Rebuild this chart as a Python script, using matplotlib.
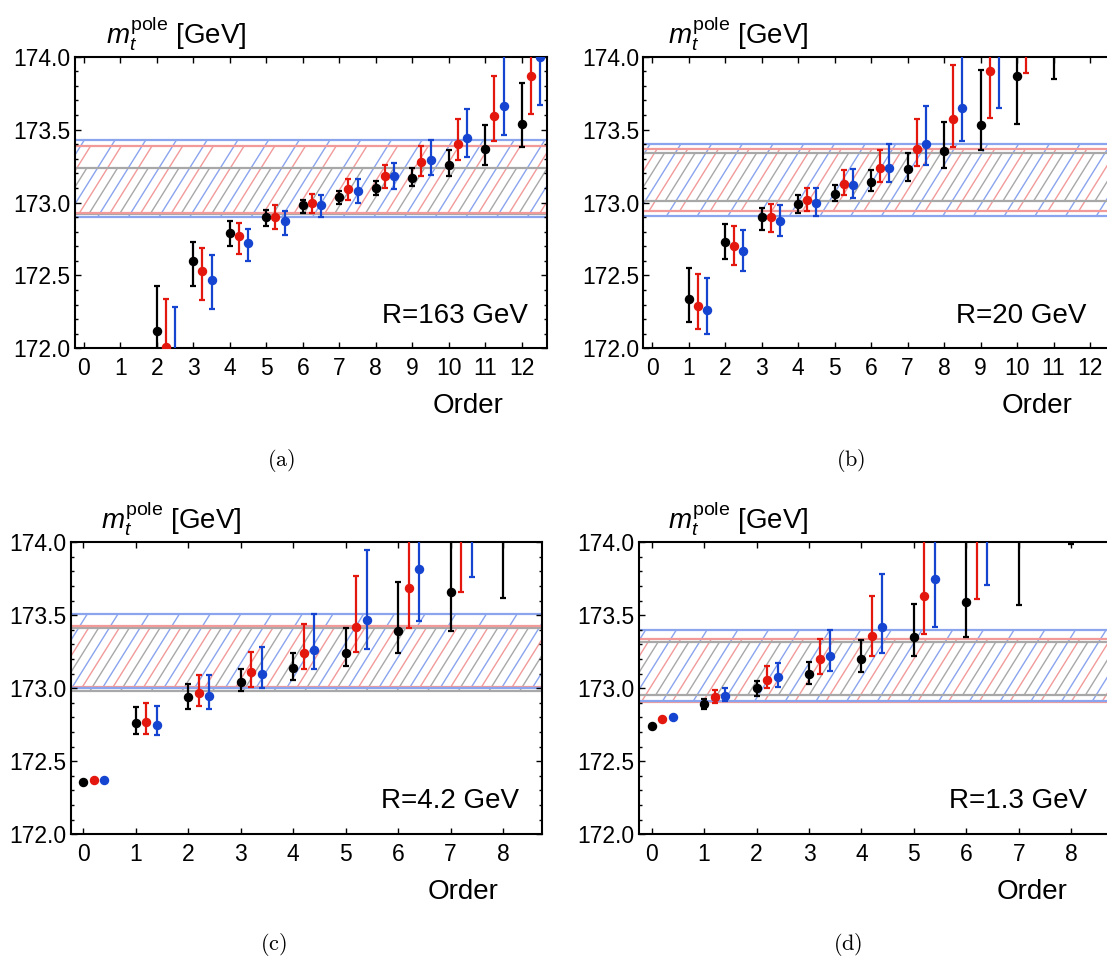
import numpy as np
import matplotlib
matplotlib.use("Agg")
import matplotlib.pyplot as plt
from matplotlib.collections import LineCollection
from matplotlib.patches import Rectangle
from matplotlib.ticker import MultipleLocator, FormatStrFormatter

# ---------------------------------------------------------------- data
# (a) R = 163 GeV
a_orders_k = [2, 3, 4, 5, 6, 7, 8, 9, 10, 11, 12]
a_k_mid = [172.12, 172.60, 172.79, 172.90, 172.98, 173.04, 173.10, 173.17, 173.26, 173.37, 173.54]
a_k_lo = [171.80, 172.43, 172.70, 172.84, 172.93, 172.99, 173.05, 173.11, 173.18, 173.26, 173.38]
a_k_hi = [172.43, 172.73, 172.87, 172.95, 173.02, 173.08, 173.15, 173.24, 173.36, 173.53, 173.82]
a_orders_r = [2, 3, 4, 5, 6, 7, 8, 9, 10, 11, 12]
a_r_mid = [172.01, 172.53, 172.77, 172.90, 173.00, 173.09, 173.18, 173.28, 173.40, 173.59, 173.87]
a_r_lo = [171.70, 172.33, 172.65, 172.82, 172.93, 173.02, 173.10, 173.18, 173.29, 173.42, 173.61]
a_r_hi = [172.34, 172.69, 172.86, 172.98, 173.06, 173.16, 173.26, 173.39, 173.57, 173.87, 174.20]
a_orders_b = [2, 3, 4, 5, 6, 7, 8, 9, 10, 11, 12]
a_b_mid = [171.90, 172.47, 172.72, 172.87, 172.98, 173.08, 173.18, 173.29, 173.44, 173.66, 174.00]
a_b_lo = [171.55, 172.27, 172.60, 172.78, 172.90, 173.00, 173.09, 173.19, 173.31, 173.46, 173.67]
a_b_hi = [172.28, 172.64, 172.82, 172.94, 173.05, 173.16, 173.27, 173.43, 173.64, 174.05, 174.40]
a_bands = [(172.92, 173.24), (172.93, 173.39), (172.90, 173.43)]  # gray, red, blue

# (b) R = 20 GeV
b_orders_k = [1, 2, 3, 4, 5, 6, 7, 8, 9, 10, 11]
b_k_mid = [172.34, 172.73, 172.90, 172.99, 173.06, 173.14, 173.23, 173.35, 173.53, 173.87, 174.30]
b_k_lo = [172.18, 172.61, 172.81, 172.93, 173.01, 173.08, 173.15, 173.24, 173.36, 173.54, 173.85]
b_k_hi = [172.55, 172.85, 172.96, 173.05, 173.12, 173.22, 173.34, 173.55, 173.91, 174.30, 174.80]
b_orders_r = [1, 2, 3, 4, 5, 6, 7, 8, 9, 10]
b_r_mid = [172.29, 172.70, 172.90, 173.02, 173.13, 173.24, 173.37, 173.57, 173.90, 174.25]
b_r_lo = [172.13, 172.57, 172.80, 172.94, 173.05, 173.14, 173.25, 173.38, 173.58, 173.89]
b_r_hi = [172.51, 172.84, 172.99, 173.10, 173.22, 173.36, 173.57, 173.94, 174.30, 174.70]
b_orders_b = [1, 2, 3, 4, 5, 6, 7, 8, 9]
b_b_mid = [172.26, 172.67, 172.87, 173.00, 173.12, 173.24, 173.40, 173.65, 174.10]
b_b_lo = [172.10, 172.53, 172.77, 172.91, 173.03, 173.14, 173.26, 173.42, 173.65]
b_b_hi = [172.48, 172.81, 172.98, 173.10, 173.23, 173.40, 173.66, 174.05, 174.60]
b_bands = [(173.01, 173.34), (172.94, 173.37), (172.91, 173.40)]

# (c) R = 4.2 GeV
c_orders_k = [0, 1, 2, 3, 4, 5, 6, 7, 8]
c_k_mid = [172.36, 172.76, 172.94, 173.04, 173.14, 173.24, 173.39, 173.66, 174.10]
c_k_lo = [172.36, 172.69, 172.86, 172.98, 173.06, 173.15, 173.24, 173.39, 173.62]
c_k_hi = [172.36, 172.87, 173.03, 173.13, 173.24, 173.41, 173.73, 174.10, 174.60]
c_orders_r = [0, 1, 2, 3, 4, 5, 6, 7]
c_r_mid = [172.37, 172.77, 172.97, 173.11, 173.24, 173.42, 173.69, 174.05]
c_r_lo = [172.37, 172.69, 172.88, 173.01, 173.13, 173.25, 173.41, 173.66]
c_r_hi = [172.37, 172.90, 173.09, 173.25, 173.44, 173.77, 174.10, 174.50]
c_orders_b = [0, 1, 2, 3, 4, 5, 6, 7]
c_b_mid = [172.37, 172.75, 172.95, 173.10, 173.26, 173.47, 173.82, 174.20]
c_b_lo = [172.37, 172.68, 172.86, 173.00, 173.13, 173.27, 173.46, 173.76]
c_b_hi = [172.37, 172.88, 173.09, 173.28, 173.51, 173.95, 174.25, 174.70]
c_bands = [(172.98, 173.41), (173.01, 173.43), (173.00, 173.51)]

# (d) R = 1.3 GeV
d_orders_k = [0, 1, 2, 3, 4, 5, 6, 7, 8]
d_k_mid = [172.74, 172.89, 173.00, 173.10, 173.20, 173.35, 173.59, 174.10, 174.60]
d_k_lo = [172.74, 172.86, 172.95, 173.03, 173.11, 173.22, 173.35, 173.57, 173.99]
d_k_hi = [172.74, 172.93, 173.05, 173.18, 173.33, 173.58, 174.05, 174.70, 175.30]
d_orders_r = [0, 1, 2, 3, 4, 5, 6]
d_r_mid = [172.79, 172.94, 173.06, 173.20, 173.36, 173.63, 174.05]
d_r_lo = [172.79, 172.90, 173.00, 173.10, 173.22, 173.37, 173.61]
d_r_hi = [172.79, 172.99, 173.15, 173.34, 173.63, 174.10, 174.60]
d_orders_b = [0, 1, 2, 3, 4, 5, 6]
d_b_mid = [172.80, 172.95, 173.08, 173.22, 173.42, 173.75, 174.20]
d_b_lo = [172.80, 172.91, 173.01, 173.12, 173.24, 173.42, 173.71]
d_b_hi = [172.80, 173.00, 173.17, 173.40, 173.78, 174.20, 174.80]
d_bands = [(172.955, 173.32), (172.905, 173.34), (172.915, 173.40)]

r_labels = ["R=163 GeV", "R=20 GeV", "R=4.2 GeV", "R=1.3 GeV"]
captions = ["(a)", "(b)", "(c)", "(d)"]

# ---------------------------------------------------------------- style
plt.rcParams["font.family"] = ["Liberation Sans", "DejaVu Sans"]
plt.rcParams["mathtext.fontset"] = "custom"
plt.rcParams["mathtext.rm"] = "Liberation Sans"
plt.rcParams["mathtext.it"] = "Liberation Sans:italic"

W, H = 1107, 956
fig = plt.figure(figsize=(W / 100, H / 100), dpi=100)

point_colors = ["#000000", "#e3170d", "#1544d0"]
band_colors = ["#a8a8a8", "#f29a9a", "#8aa4ee"]
hatch_phase = [20.0, 10.0, 0.0]
HATCH_STEP = 30.7      # px between hatch lines of one colour
HATCH_ANGLE = np.deg2rad(58)
LABEL_SIZE = 20


def fx(x):
    return x / W


def fy(y):
    return 1 - y / H


def hatch_band(ax, lo, hi, color, phase, w_px, h_px):
    dx = h_px / np.tan(HATCH_ANGLE)
    starts = np.arange(-dx - HATCH_STEP + phase, w_px + HATCH_STEP, HATCH_STEP)
    segs = [[(s / w_px, 0.0), ((s + dx) / w_px, 1.0)] for s in starts]
    lc = LineCollection(segs, colors=color, linewidths=1.0,
                        transform=ax.transAxes, zorder=1)
    ax.add_collection(lc, autolim=False)
    # restrict the hatch to the band (full width, lo..hi in data units)
    clip = Rectangle((0, lo), 1, hi - lo, transform=ax.get_yaxis_transform(),
                     facecolor="none", edgecolor="none")
    lc.set_clip_path(clip)
    for v in (lo, hi):
        ax.axhline(v, color=color, lw=1.6, zorder=1.5)


panels = [
    dict(box=(75.0, 56.7, 472.3, 291.6), xmax=12.7, offs=(0, 0.25, 0.5),
         series=[(a_orders_k, a_k_mid, a_k_lo, a_k_hi),
                 (a_orders_r, a_r_mid, a_r_lo, a_r_hi),
                 (a_orders_b, a_b_mid, a_b_lo, a_b_hi)],
         bands=a_bands, title=(106, 43.3), rlab=(528.3, 322.7),
         order=(468.4, 412.7), cap=(281, 461)),
    dict(box=(643.3, 56.7, 472.3, 291.6), xmax=12.7, offs=(0, 0.25, 0.5),
         series=[(b_orders_k, b_k_mid, b_k_lo, b_k_hi),
                 (b_orders_r, b_r_mid, b_r_lo, b_r_hi),
                 (b_orders_b, b_b_mid, b_b_lo, b_b_hi)],
         bands=b_bands, title=(668, 43.3), rlab=(1086.7, 323.3),
         order=(1036.7, 412.7), cap=(851, 461)),
    dict(box=(70.7, 542.3, 471.3, 292.0), xmax=8.74, offs=(0, 0.2, 0.4),
         series=[(c_orders_k, c_k_mid, c_k_lo, c_k_hi),
                 (c_orders_r, c_r_mid, c_r_lo, c_r_hi),
                 (c_orders_b, c_b_mid, c_b_lo, c_b_hi)],
         bands=c_bands, title=(101, 528.9), rlab=(519.3, 807.7),
         order=(463.4, 899.0), cap=(273, 944)),
    dict(box=(639.0, 542.3, 475.4, 292.0), xmax=8.82, offs=(0, 0.2, 0.4),
         series=[(d_orders_k, d_k_mid, d_k_lo, d_k_hi),
                 (d_orders_r, d_r_mid, d_r_lo, d_r_hi),
                 (d_orders_b, d_b_mid, d_b_lo, d_b_hi)],
         bands=d_bands, title=(668, 528.9), rlab=(1087.3, 807.7),
         order=(1031.7, 899.0), cap=(848, 944)),
]

for i, p in enumerate(panels):
    x0, y0, w, h = p["box"]
    ax = fig.add_axes([fx(x0), fy(y0 + h), w / W, h / H])
    ax.set_xlim(-0.24, p["xmax"])
    ax.set_ylim(172.0, 174.0)

    for (lo, hi), col, ph in zip(p["bands"], band_colors, hatch_phase):
        hatch_band(ax, lo, hi, col, ph, w, h)

    for (orders, mid, lo, hi), col, off in zip(p["series"], point_colors, p["offs"]):
        xs = np.asarray(orders, float) + off
        mid = np.asarray(mid)
        err = [mid - np.asarray(lo), np.asarray(hi) - mid]
        ax.errorbar(xs, mid, yerr=err, fmt="o", color=col, ms=5.8,
                    elinewidth=1.6, capsize=1.9, capthick=1.6, zorder=3)

    ax.xaxis.set_major_locator(MultipleLocator(1))
    ax.yaxis.set_major_locator(MultipleLocator(0.5))
    ax.yaxis.set_minor_locator(MultipleLocator(0.1))
    ax.yaxis.set_major_formatter(FormatStrFormatter("%.1f"))
    ax.tick_params(axis="both", which="both", direction="in",
                   top=True, right=True, labelsize=16.5, width=1.0)
    ax.tick_params(axis="both", which="major", length=4.2)
    ax.tick_params(axis="y", which="minor", length=2.4)
    ax.tick_params(axis="x", which="major", pad=6.5)
    ax.tick_params(axis="y", which="major", pad=3)
    for s in ax.spines.values():
        s.set_linewidth(1.5)

    fig.text(fx(p["title"][0]), fy(p["title"][1]), r"$m_t^{\mathrm{pole}}$ [GeV]",
             fontsize=LABEL_SIZE, ha="left", va="baseline")
    fig.text(fx(p["rlab"][0]), fy(p["rlab"][1]), r_labels[i],
             fontsize=LABEL_SIZE, ha="right", va="baseline")
    fig.text(fx(p["order"][0]), fy(p["order"][1]), "Order",
             fontsize=LABEL_SIZE, ha="center", va="baseline")
    fig.text(fx(p["cap"][0]), fy(p["cap"][1]), r"$\mathrm{" + captions[i] + "}$",
             fontsize=16, ha="center", va="center", math_fontfamily="cm")

fig.savefig("out.png", dpi=100)
